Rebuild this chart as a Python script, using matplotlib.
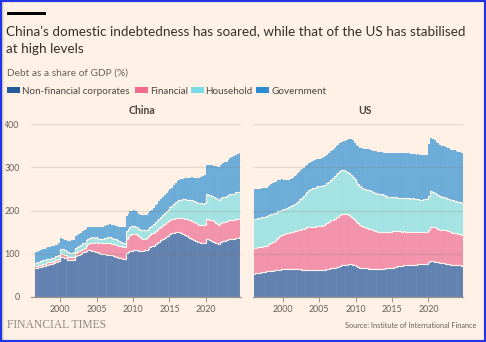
import numpy as np
import matplotlib
matplotlib.use("Agg")
import matplotlib.pyplot as plt
from matplotlib.patches import Rectangle

# ---------------- data (debt as % of GDP, quarterly) ----------------
china_start = 1996.5   # 1996 Q3
us_start = 1996.0      # 1996 Q1

china_corp = [66, 67,
              69, 70, 72, 72,  74, 75, 76, 77,  78, 80, 81, 83,  93, 92, 91, 90,
              86, 85, 85, 86,  94, 96, 98, 100, 103, 104, 106, 108, 108, 107, 106, 105,
              103, 101, 100, 99, 99, 98, 97, 97, 96, 94, 93, 92,  91, 90, 89, 88,
              101, 104, 106, 107, 108, 108, 108, 107, 107, 107, 108, 109, 112, 115, 117, 119,
              122, 125, 128, 131, 134, 137, 140, 142, 145, 147, 149, 151, 151, 150, 148, 146,
              143, 141, 139, 137, 135, 132, 130, 128, 127, 126, 125, 125, 135, 134, 132, 130,
              128, 126, 124, 123, 127, 129, 130, 131, 134, 135, 134, 135, 137, 137, 138]
china_fin = [5, 5,
             5, 5, 5, 5,  5, 5, 5, 5,  5, 6, 6, 6,  7, 7, 7, 7,
             7, 7, 7, 7,  8, 8, 8, 8,  9, 10, 12, 14,  17, 19, 20, 22,
             23, 24, 25, 25,  26, 26, 27, 27,  27, 28, 28, 28,  28, 28, 27, 27,
             34, 35, 37, 38,  38, 37, 35, 33,  30, 28, 27, 27,  28, 29, 30, 30,
             31, 31, 31, 32,  32, 32, 33, 33,  33, 33, 32, 31,  31, 32, 34, 36,
             38, 39, 40, 41,  41, 41, 40, 40,  40, 41, 41, 41,  46, 46, 47, 48,
             47, 46, 45, 44,  44, 44, 44, 44,  44, 44, 44, 44,  44, 43, 43]
china_hh = [8, 8,
            8, 8, 8, 8,  8, 8, 8, 8,  8, 8, 8, 9,  12, 11, 10, 10,
            10, 10, 10, 10,  11, 11, 12, 12,  12, 12, 13, 13,  12, 12, 11, 11,
            10, 10, 10, 11,  12, 13, 14, 14,  13, 13, 12, 12,  11, 10, 10, 10,
            17, 18, 19, 19,  18, 18, 18, 18,  18, 19, 19, 19,  18, 18, 18, 19,
            20, 21, 22, 23,  24, 25, 26, 27,  29, 31, 34, 37,  40, 42, 43, 44,
            45, 45, 46, 46,  48, 49, 50, 50,  50, 50, 50, 51,  56, 56, 56, 56,
            57, 57, 58, 58,  58, 58, 58, 58,  58, 59, 60, 60,  61, 62, 62]
china_gov = [24, 24,
             25, 25, 26, 26,  26, 27, 27, 27,  26, 26, 26, 26,  25, 24, 23, 24,
             27, 28, 29, 29,  29, 29, 28, 28,  28, 28, 27, 27,  26, 25, 25, 25,
             25, 26, 26, 27,  28, 29, 29, 30,  31, 31, 31, 32,  33, 34, 35, 36,
             36, 35, 36, 36,  37, 36, 35, 35,  35, 35, 35, 35,  36, 37, 37, 38,
             39, 39, 40, 40,  41, 41, 42, 42,  42, 42, 43, 44,  46, 46, 47, 47,
             48, 49, 50, 51,  53, 54, 55, 56,  58, 61, 64, 66,  68, 69, 70, 71,
             72, 73, 74, 75,  77, 78, 79, 80,  81, 83, 85, 86,  87, 89, 90]

us_corp = [54, 55, 56, 56,  57, 58, 58, 59,  60, 61, 61, 62,  62, 63, 63, 64,
           64, 64, 64, 64,  65, 65, 64, 64,  64, 64, 63, 63,  63, 63, 63, 62,
           62, 62, 62, 62,  62, 62, 63, 63,  64, 65, 66, 67,  68, 69, 70, 72,
           73, 73, 74, 75,  76, 76, 75, 74,  72, 70, 68, 67,  66, 66, 66, 65,
           65, 64, 64, 64,  64, 65, 65, 65,  66, 66, 67, 67,  68, 69, 70, 71,
           72, 72, 73, 73,  73, 74, 74, 75,  75, 75, 76, 76,  76, 77, 77, 77,
           80, 84, 83, 82,  81, 80, 79, 78,  78, 77, 76, 76,  75, 75, 74, 74,
           73, 73, 72]
us_fin = [60, 59, 59, 59,  59, 59, 59, 60,  62, 64, 66, 68,  71, 74, 77, 79,
          81, 82, 83, 84,  85, 86, 88, 89,  90, 92, 94, 95,  97, 98, 99, 100,
          101, 101, 102, 102,  102, 103, 104, 105,  107, 109, 111, 112,  113, 115, 116, 118,
          119, 120, 119, 116,  113, 110, 107, 104,  102, 100, 98, 97,  96, 95, 94, 93,
          92, 90, 89, 88,  87, 86, 86, 85,  85, 84, 84, 84,  84, 83, 82, 81,
          80, 79, 79, 78,  77, 77, 76, 76,  75, 75, 75, 74,  74, 74, 74, 74,
          76, 79, 79, 79,  78, 77, 77, 77,  77, 77, 76, 76,  75, 74, 74, 73,
          72, 72, 71]
us_hh = [67, 67, 68, 68,  68, 68, 68, 68,  67, 66, 65, 64,  62, 61, 59, 58,
         58, 58, 59, 59,  60, 62, 63, 65,  66, 70, 73, 76,  79, 82, 85, 87,
         89, 90, 91, 92,  92, 92, 92, 92,  92, 93, 94, 96,  98, 100, 101, 101,
         101, 100, 99, 99,  98, 97, 96, 94,  92, 91, 90, 89,  88, 88, 88, 89,
         89, 89, 88, 88,  87, 86, 86, 85,  83, 82, 81, 80,  80, 79, 79, 78,
         78, 78, 78, 78,  78, 78, 77, 77,  77, 76, 76, 75,  75, 75, 75, 75,
         78, 83, 81, 80,  79, 78, 77, 76,  76, 75, 75, 75,  75, 75, 75, 75,
         75, 75, 75]
us_gov = [68, 68, 67, 67,  67, 66, 66, 66,  68, 70, 71, 72,  72, 72, 71, 71,
          68, 66, 64, 63,  63, 63, 64, 65,  66, 66, 66, 65,  63, 62, 62, 62,
          63, 63, 64, 64,  64, 64, 64, 65,  65, 66, 66, 66,  66, 65, 65, 65,
          66, 68, 69, 74,  78, 82, 84, 85,  85, 87, 89, 91,  93, 94, 95, 95,
          95, 95, 96, 97,  98, 99, 99, 99,  100, 101, 101, 101,  102, 102, 102, 102,
          103, 104, 104, 104,  104, 103, 103, 103,  103, 103, 103, 103,  103, 103, 103, 103,
          119, 121, 122, 122,  121, 120, 119, 119,  118, 118, 117, 117,  116, 116, 116, 116,
          116, 116, 116]

series_names = ["Non-financial corporates", "Financial", "Household", "Government"]
panel_names = ["China", "US"]
x_ticks = [2000, 2005, 2010, 2015, 2020]
y_ticks = [0, 100, 200, 300, 400]

# ---------------- style ----------------
BG = "#FFF1E5"
bar_colors = ["#5E7FAF", "#F291AA", "#A3E3E3", "#6AABD8"]
legend_colors = ["#235A9C", "#F26A8E", "#7ADCE6", "#2B8CD3"]
TXT = "#33302E"
GREY = "#66605C"
FONT = ["Lato", "DejaVu Sans"]
plt.rcParams["font.family"] = FONT

W, H = 486, 342
fig = plt.figure(figsize=(W / 100, H / 100), dpi=100, facecolor=BG)


def fx(px):
    return px / W


def fy(py):
    return 1 - py / H


renderer = fig.canvas.get_renderer()


def fit(t, width_px):
    bb = t.get_window_extent(renderer)
    t.set_fontsize(t.get_fontsize() * width_px / bb.width)


panels = [
    (china_start, [china_corp, china_fin, china_hh, china_gov], 30.7),
    (us_start, [us_corp, us_fin, us_hh, us_gov], 253.3),
]

axes = []
for i, (start, data, left_px) in enumerate(panels):
    ax = fig.add_axes([fx(left_px), fy(297), 210 / W, 173 / H])
    ax.set_facecolor(BG)
    n = len(data[0])
    x = start + 0.25 * np.arange(n)
    edges = start + 0.25 * np.arange(n + 1)
    bottom = np.zeros(n)
    for k, vals in enumerate(data):
        v = np.array(vals, dtype=float)
        ax.bar(x, v, width=0.25, bottom=bottom, align="edge", color=bar_colors[k],
               edgecolor=(1, 1, 1, 0.12), linewidth=0.25, zorder=2)
        bottom = bottom + v
        if k < 3:
            ax.stairs(bottom, edges, baseline=None, color="#FFF6EE", lw=0.8, zorder=3)
    for yv in y_ticks[1:]:
        ax.axhline(yv, color="#7F6F60", alpha=0.18, lw=1, zorder=4)
    ax.set_xlim(1995.95, 2024.8)
    ax.set_ylim(0, 400)
    for s in ["top", "right", "left"]:
        ax.spines[s].set_visible(False)
    ax.spines["bottom"].set_color("#9A928C")
    ax.spines["bottom"].set_linewidth(0.9)
    ax.spines["bottom"].set_zorder(5)
    ax.set_xticks(x_ticks)
    ax.set_xticklabels([str(t) for t in x_ticks])
    ax.tick_params(axis="x", length=3.5, width=0.7, color="#9A928C", labelsize=6.4,
                   labelcolor=GREY, pad=2.5)
    ax.set_yticks(y_ticks)
    if i == 0:
        ax.set_yticklabels([str(t) for t in y_ticks])
        ax.tick_params(axis="y", length=0, labelsize=6.4, labelcolor=GREY, pad=8)
    else:
        ax.set_yticklabels([])
        ax.tick_params(axis="y", length=0)
    axes.append(ax)

# panel titles
fig.text(fx(142), fy(110), panel_names[0], ha="center", va="center", fontsize=7.6,
         fontweight="bold", color="#4A4542")
fig.text(fx(364.5), fy(110), panel_names[1], ha="center", va="center", fontsize=7.6,
         fontweight="bold", color="#4A4542")

# top black bar
fig.add_artist(Rectangle((fx(7), fy(14.5)), 39 / W, 2.5 / H, transform=fig.transFigure,
                         color="#000000", lw=0))

# title
t1 = fig.text(fx(6), fy(35.5), "China's domestic indebtedness has soared, while that of the US has stabilised",
              ha="left", va="baseline", fontsize=10, color=TXT)
fit(t1, 459)
fig.text(fx(6), fy(53), "at high levels", ha="left", va="baseline",
         fontsize=t1.get_fontsize(), color=TXT)

# subtitle
st = fig.text(fx(7), fy(75.5), "Debt as a share of GDP (%)", ha="left", va="baseline",
              fontsize=7, color=GREY)
fit(st, 121)

# legend
sw_x = [7, 135, 190.5, 256]
for k, name in enumerate(series_names):
    fig.add_artist(Rectangle((fx(sw_x[k]), fy(93.3)), 13 / W, 6.3 / H,
                             transform=fig.transFigure, color=legend_colors[k], lw=0))
    fig.text(fx(sw_x[k] + 15), fy(93.5), name, ha="left", va="baseline",
             fontsize=st.get_fontsize() * 0.97, color="#4A4542")

# footer
ft = fig.text(fx(7), fy(328.5), "FINANCIAL TIMES", ha="left", va="baseline",
              fontsize=9, color="#8F8A86", family=["Liberation Serif", "DejaVu Serif"])
fit(ft, 100)
src = fig.text(fx(476), fy(328.5), "Source: Institute of International Finance",
               ha="right", va="baseline", fontsize=5.5, color=GREY)
fit(src, 133)

# left shadow and blue frame
sh = fig.add_axes([0, 0, 4 / W, 1])
sh.imshow(np.linspace(0, 1, 4)[None, :], cmap=matplotlib.colors.LinearSegmentedColormap.from_list(
    "s", ["#B8B2AC", BG]), aspect="auto", extent=[0, 1, 0, 1])
sh.axis("off")
fig.add_artist(Rectangle((0, 0), 1, 1, transform=fig.transFigure, fill=False,
                         edgecolor="#1F35E6", lw=3.0))

fig.savefig("out.png", dpi=100, facecolor=BG)
